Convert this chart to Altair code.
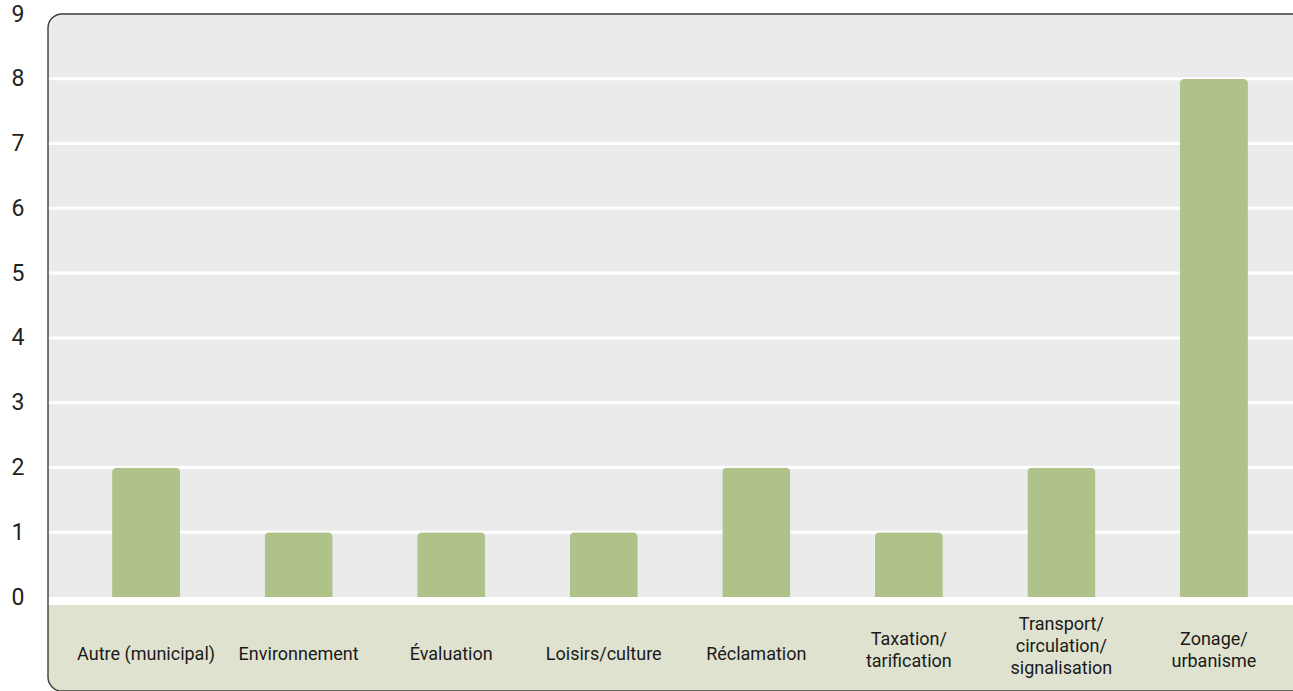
import altair as alt
import pandas as pd

categories = ["Autre (municipal)", "Environnement", "Évaluation", "Loisirs/culture",
              "Réclamation", "Taxation/\ntarification", "Transport/\ncirculation/\nsignalisation",
              "Zonage/\nurbanisme"]
values = [2, 1, 1, 1, 2, 1, 2, 8]
y_ticks = [0, 1, 2, 3, 4, 5, 6, 7, 8, 9]
grid_values = [1, 2, 3, 4, 5, 6, 7, 8]

df = pd.DataFrame({"cat": categories, "val": values})
grid_df = pd.DataFrame({"g": grid_values})
one = pd.DataFrame({"a": [0]})

W, H = 1245, 677
GRAY = "#ebebeb"
BEIGE = "#e0e2d0"
BAR = "#aec28a"
FRAME = "#3d3d3d"
FONT = "Roboto"

yscale = alt.Scale(domain=[-1.451, 9], nice=False, zero=False)
xscale = alt.Scale(domain=categories, range=[0, 1264], paddingInner=0.554, paddingOuter=0.42)

gray = alt.Chart(one).mark_rect(color=GRAY, cornerRadiusTopLeft=14).encode(
    x=alt.value(0), x2=alt.value(1290),
    y=alt.Y("a:Q", scale=yscale, axis=alt.Axis(values=y_ticks, format="d", grid=False, domain=False,
                                               ticks=False, labelFont=FONT, labelFontSize=23,
                                               labelColor="#222222", labelPadding=24,
                                               labelFlush=False, title=None)),
    y2=alt.datum(9),
)

grid = alt.Chart(grid_df).mark_rule(color="white", strokeWidth=3).encode(
    x=alt.value(0), x2=alt.value(1290),
    y=alt.Y("g:Q", scale=yscale),
)

beige = alt.Chart(one).mark_rect(color=BEIGE, cornerRadiusBottomLeft=14).encode(
    x=alt.value(0), x2=alt.value(1290),
    y=alt.value(591), y2=alt.value(H),
)

bars = alt.Chart(df).mark_bar(color=BAR, cornerRadiusTopLeft=5, cornerRadiusTopRight=5).encode(
    x=alt.X("cat:N", scale=xscale, axis=None, sort=categories),
    y=alt.Y("val:Q", scale=yscale),
)

labels = alt.Chart(df).transform_calculate(
    nlines="length(split(datum.cat, '\\n'))"
).transform_calculate(
    ypix="641 - (datum.nlines - 1) * 15"
).mark_text(font=FONT, fontSize=18, color="#1a1a1a", lineBreak="\n",
            lineHeight=22, baseline="middle", align="center").encode(
    x=alt.X("cat:N", scale=xscale, axis=None, sort=categories),
    y=alt.Y("ypix:Q", scale=None),
    text="cat:N",
)

frame = alt.Chart(one).mark_rect(fillOpacity=0, stroke=FRAME, strokeWidth=1.4, cornerRadius=14).encode(
    x=alt.value(0), x2=alt.value(1300),
    y=alt.value(0), y2=alt.value(H),
)

chart = alt.layer(gray, grid, beige, bars, labels, frame).properties(
    width=W, height=H,
    autosize=alt.AutoSizeParams(type="none"),
    padding={"left": 48, "top": 14, "right": 0, "bottom": 0},
    background="white",
).configure_view(stroke=None)

chart.save("out.html", embed_options={"renderer": "svg", "actions": False})
